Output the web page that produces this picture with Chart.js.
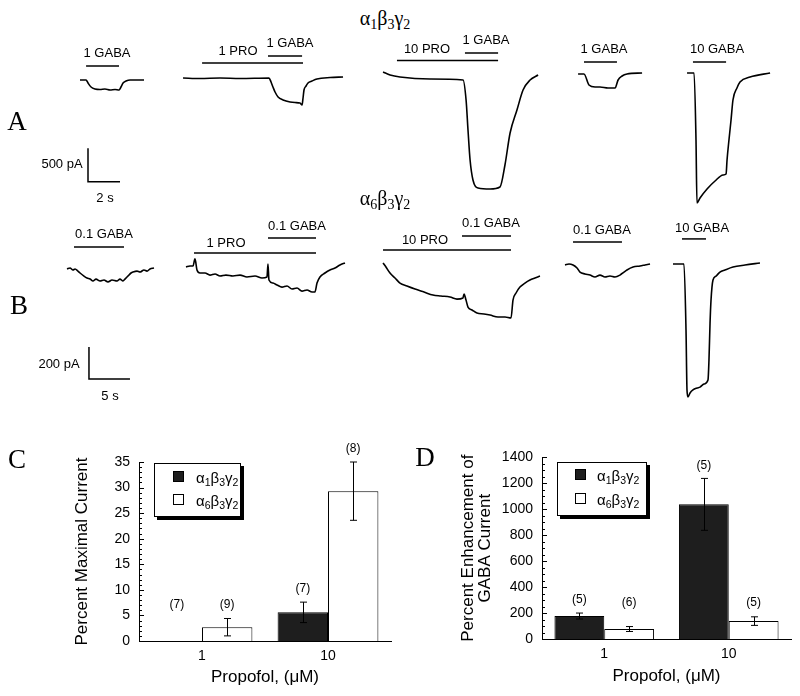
<!DOCTYPE html>
<html>
<head>
<meta charset="utf-8">
<script src="https://cdn.jsdelivr.net/npm/chart.js@4.4.0/dist/chart.umd.min.js"></script>
<style>
  body { margin: 0; background: #fff; }
  #fig { position: relative; width: 800px; height: 696px; overflow: hidden; font-family: "Liberation Sans", Arial, sans-serif; color: #000; }
  canvas { position: absolute; }
  .t { position: absolute; transform: translate(-50%, -50%); white-space: nowrap; line-height: 1; font-size: 13px; z-index: 2; }
  .serif { font-family: "Liberation Serif", "DejaVu Serif", serif; }
  .letter { font-size: 27px; }
  .title { font-size: 20px; }
  sub { font-size: 0.7em; vertical-align: -0.3em; line-height: 0; }
  .legend { position: absolute; border: 1.5px solid #000; box-shadow: 3px 3px 0 #000; background: #fff; z-index: 2; box-sizing: border-box; }
  .legend .sw { position: absolute; width: 11px; height: 11px; border: 1px solid #000; box-sizing: border-box; }
  .legend .lb { position: absolute; font-size: 15px; line-height: 1; transform: translateY(-50%); white-space: nowrap; }
</style>
</head>
<body>
<div id="fig">
  <canvas id="rowA" width="800" height="170" style="left:0;top:40px"></canvas>
  <canvas id="rowB" width="800" height="190" style="left:0;top:215px"></canvas>
  <canvas id="chartC" width="370" height="256" style="left:40px;top:440px"></canvas>
  <canvas id="chartD" width="380" height="256" style="left:420px;top:440px"></canvas>

  <div class="t serif title" style="left:385px;top:18px">α<sub>1</sub>β<sub>3</sub>γ<sub>2</sub></div>
  <div class="t serif title" style="left:385px;top:198px">α<sub>6</sub>β<sub>3</sub>γ<sub>2</sub></div>
  <div class="t serif letter" style="left:17px;top:121px">A</div>
  <div class="t serif letter" style="left:19px;top:305px">B</div>
  <div class="t serif letter" style="left:17px;top:459px">C</div>
  <div class="t serif letter" style="left:425px;top:457px">D</div>

  <div class="t" style="left:107px;top:52px">1 GABA</div>
  <div class="t" style="left:238px;top:50px">1 PRO</div>
  <div class="t" style="left:290px;top:42px">1 GABA</div>
  <div class="t" style="left:427px;top:48px">10 PRO</div>
  <div class="t" style="left:486px;top:39px">1 GABA</div>
  <div class="t" style="left:604px;top:48px">1 GABA</div>
  <div class="t" style="left:717px;top:48px">10 GABA</div>
  <div class="t" style="left:62px;top:163px">500 pA</div>
  <div class="t" style="left:105px;top:197px">2 s</div>

  <div class="t" style="left:104px;top:233px">0.1 GABA</div>
  <div class="t" style="left:226px;top:242px">1 PRO</div>
  <div class="t" style="left:297px;top:225px">0.1 GABA</div>
  <div class="t" style="left:425px;top:239px">10 PRO</div>
  <div class="t" style="left:491px;top:222px">0.1 GABA</div>
  <div class="t" style="left:602px;top:229px">0.1 GABA</div>
  <div class="t" style="left:702px;top:227px">10 GABA</div>
  <div class="t" style="left:59px;top:363px">200 pA</div>
  <div class="t" style="left:110px;top:395px">5 s</div>

  <div class="legend" id="legC" style="left:154px;top:463px;width:87px;height:54px"></div>
  <div class="legend" id="legD" style="left:557px;top:462px;width:90px;height:54px"></div>
</div>

<script>
// ---- traces, row A (alpha1 beta3 gamma2): time in s, current in pA ----
const a1T = [5.00, 5.38, 5.50, 5.69, 5.94, 6.25, 6.56, 6.88, 7.19, 7.44, 7.56, 7.69, 7.88, 8.13, 9.00];
const a1I = [-75, -75, -120, -180, -210, -218, -210, -225, -218, -225, -180, -120, -90, -75, -75];
const a2T = [11.44, 12.50, 13.75, 15.00, 16.81, 16.94, 17.06, 17.19, 17.38, 17.69, 18.13, 18.44, 18.75, 18.88, 18.94, 19.00, 19.13, 19.25, 19.50, 19.81, 20.63, 21.44];
const a2I = [-45, -53, -45, -53, -45, -105, -180, -255, -330, -375, -405, -413, -420, -450, -345, -225, -165, -120, -90, -60, -38, -30];
const a3T = [23.94, 24.38, 25.00, 26.88, 28.94, 29.13, 29.25, 29.38, 29.56, 29.88, 30.63, 31.25, 31.56, 31.88, 32.31, 32.69, 33.13, 33.63];
const a3I = [45, 0, -30, -60, -75, -375, -825, -1275, -1575, -1695, -1710, -1680, -1350, -870, -525, -225, -75, 0];
const a4T = [36.13, 36.50, 36.81, 37.19, 37.50, 38.00, 38.44, 38.63, 38.88, 39.19, 40.13];
const a4I = [15, 15, -150, -180, -180, -195, -195, -75, -15, 15, 30];
const a5T = [42.94, 43.38, 43.50, 43.56, 43.75, 44.19, 44.69, 45.19, 45.38, 45.44, 45.56, 45.69, 45.81, 46.06, 46.25, 46.88, 48.13];
const a5I = [30, 30, -975, -1920, -1845, -1710, -1590, -1500, -1485, -1275, -975, -675, -375, -195, -105, -30, 30];
// drug application bars [start s, end s, level]
const appA = [[5.38, 7.44, 135], [12.63, 18.94, 180], [16.75, 18.88, 285], [24.81, 31.13, 218], [29.06, 31.13, 330], [36.5, 38.56, 195], [43.31, 45.38, 195]];
const scaleA = [[5.5, -1100], [5.5, -1600], [7.5, -1600]];   // 500 pA / 2 s

// ---- traces, row B (alpha6 beta3 gamma2) ----
const b1T = [8.17, 8.54, 8.90, 9.15, 9.51, 9.76, 10.24, 10.61, 10.98, 11.34, 11.71, 12.20, 12.68, 13.17, 13.66, 14.27, 14.63, 15.00, 15.24, 15.61, 15.98, 16.22, 16.71, 17.07, 17.56, 17.93, 18.29, 18.78];
const b1I = [-25, -19, -31, -25, -38, -50, -69, -81, -88, -100, -88, -100, -94, -106, -94, -100, -88, -100, -88, -69, -50, -44, -38, -44, -31, -38, -25, -19];
const b2T = [22.68, 23.17, 23.54, 23.78, 24.02, 24.39, 25.00, 25.61, 26.22, 26.83, 27.56, 28.41, 29.27, 30.12, 31.10, 31.95, 32.56, 32.68, 32.80, 33.29, 33.78, 34.39, 35.00, 35.61, 36.22, 36.83, 37.44, 38.05, 38.41, 38.66, 39.02, 39.63, 40.24, 40.85, 41.46, 42.07];
const b2I = [-13, -6, -6, 38, -31, -50, -50, -63, -56, -69, -63, -69, -63, -75, -69, -81, -75, 6, -94, -113, -125, -138, -131, -150, -144, -163, -156, -169, -169, -113, -75, -50, -31, -19, 0, 13];
const b3T = [46.71, 47.07, 47.56, 48.17, 48.78, 49.63, 50.61, 51.71, 52.80, 53.78, 54.88, 55.73, 56.46, 56.59, 56.83, 57.07, 57.56, 58.17, 59.02, 59.76, 60.73, 61.59, 62.32, 62.56, 62.93, 63.41, 64.02, 64.63, 65.24, 65.85];
const b3I = [13, -13, -50, -81, -113, -131, -150, -169, -188, -194, -200, -213, -206, -181, -219, -263, -281, -300, -306, -313, -325, -325, -331, -219, -175, -138, -113, -94, -81, -69];
const b4T = [68.90, 69.39, 69.88, 70.37, 70.73, 71.34, 71.95, 72.56, 73.17, 73.78, 74.39, 75.00, 75.61, 76.10, 76.46, 77.20, 78.05, 78.66, 79.27];
const b4I = [0, 6, 0, -19, -44, -56, -63, -75, -63, -75, -69, -75, -63, -44, -31, -13, -6, 0, 6];
const b5T = [82.07, 83.41, 83.66, 83.78, 83.90, 84.15, 84.51, 85.00, 85.37, 85.85, 86.34, 86.46, 86.59, 86.71, 86.95, 87.32, 87.80, 88.41, 89.39, 90.85, 92.68];
const b5I = [6, 6, -406, -781, -825, -800, -781, -769, -763, -744, -719, -594, -363, -219, -94, -69, -44, -31, -13, 0, 13];
const appB = [[9.02, 15.12, 113], [23.66, 38.54, 75], [32.68, 38.54, 169], [46.71, 62.32, 94], [56.34, 62.32, 181], [69.88, 75.85, 144], [83.17, 86.10, 163]];
const scaleB = [[10.85, -513], [10.85, -713], [15.85, -713]];  // 200 pA / 5 s

// ---- bar charts ----
const doses = ['1', '10'];
const seriesNames = ['α1β3γ2', 'α6β3γ2'];
const seriesHtml = ['α<sub>1</sub>β<sub>3</sub>γ<sub>2</sub>', 'α<sub>6</sub>β<sub>3</sub>γ<sub>2</sub>'];
const maxCurA1 = [0, 5.6];
const maxCurA1Err = [0, 2.0];
const maxCurA1N = [7, 7];
const maxCurA6 = [2.7, 29.3];
const maxCurA6Err = [1.7, 5.7];
const maxCurA6N = [9, 8];
const enhA1 = [177, 1038];
const enhA1Err = [23, 200];
const enhA1N = [5, 5];
const enhA6 = [77, 138];
const enhA6Err = [19, 33];
const enhA6N = [6, 5];

const pts = (t, i) => t.map((x, k) => ({ x: x, y: i[k] }));

const traceSet = (t, i) => ({ data: pts(t, i), borderColor: '#000', borderWidth: 1.6, cubicInterpolationMode: 'monotone', pointRadius: 0, fill: false });
const plainSet = (p) => ({ data: p, borderColor: '#000', borderWidth: 1.5, pointRadius: 0, fill: false, tension: 0 });

const traceChart = (id, xMax, yMin, yMax, datasets) => new Chart(document.getElementById(id), {
  type: 'line',
  data: { datasets: datasets },
  options: {
    responsive: false,
    animation: false,
    events: [],
    layout: { padding: 0 },
    plugins: { legend: { display: false }, tooltip: { enabled: false } },
    scales: {
      x: { type: 'linear', display: false, min: 0, max: xMax },
      y: { display: false, min: yMin, max: yMax }
    }
  }
});

traceChart('rowA', 50, -2025, 525, [
  traceSet(a1T, a1I), traceSet(a2T, a2I), traceSet(a3T, a3I), traceSet(a4T, a4I), traceSet(a5T, a5I),
  ...appA.map(b => plainSet([{ x: b[0], y: b[2] }, { x: b[1], y: b[2] }])),
  plainSet(scaleA.map(p => ({ x: p[0], y: p[1] })))
]);

traceChart('rowB', 800 / 8.2, -875, 312.5, [
  traceSet(b1T, b1I), traceSet(b2T, b2I), traceSet(b3T, b3I), traceSet(b4T, b4I), traceSet(b5T, b5I),
  ...appB.map(b => plainSet([{ x: b[0], y: b[2] }, { x: b[1], y: b[2] }])),
  plainSet(scaleB.map(p => ({ x: p[0], y: p[1] })))
]);

// error bars + (n) labels
const errorBars = {
  id: 'errorBars',
  afterDatasetsDraw(chart) {
    const ctx = chart.ctx, y = chart.scales.y;
    ctx.save();
    ctx.strokeStyle = '#000';
    ctx.fillStyle = '#000';
    ctx.lineWidth = 1;
    ctx.font = '12px "Liberation Sans", Arial, sans-serif';
    ctx.textAlign = 'center';
    ctx.textBaseline = 'middle';
    chart.data.datasets.forEach((ds, i) => {
      chart.getDatasetMeta(i).data.forEach((bar, j) => {
        const v = ds.data[j], e = ds.errors[j];
        const x = Math.round(bar.x) + 0.5;
        const top = y.getPixelForValue(v + e);
        if (e > 0) {
          const bot = y.getPixelForValue(v - e);
          ctx.beginPath();
          ctx.moveTo(x, top); ctx.lineTo(x, bot);
          ctx.moveTo(x - 3.5, top); ctx.lineTo(x + 3.5, top);
          ctx.moveTo(x - 3.5, bot); ctx.lineTo(x + 3.5, bot);
          ctx.stroke();
        }
        const ly = Math.min(top - 13, y.getPixelForValue(0) - 36);
        ctx.fillText('(' + ds.counts[j] + ')', bar.x, ly);
      });
    });
    ctx.restore();
  }
};

// small inward ticks on the y axis
const inwardTicks = (minor, major) => ({
  id: 'inwardTicks',
  afterDraw(chart) {
    const y = chart.scales.y, ctx = chart.ctx, left = chart.chartArea.left;
    ctx.save();
    ctx.strokeStyle = '#000';
    ctx.lineWidth = 1;
    for (let v = y.min; v <= y.max + 1e-9; v += minor) {
      const py = Math.round(y.getPixelForValue(v)) + 0.5;
      const len = Math.abs(v % major) < 1e-9 ? 5 : 3;
      ctx.beginPath(); ctx.moveTo(left, py); ctx.lineTo(left + len, py); ctx.stroke();
    }
    ctx.restore();
  }
});

const font = (size, lh) => ({ family: '"Liberation Sans", Arial, sans-serif', size: size, lineHeight: lh || 1.2 });

const barChart = (id, d1, e1, n1, d6, e6, n6, yMax, step, minor, yTitle, yTitlePad, yWidth, xHeight, xTitlePad, pad) => new Chart(document.getElementById(id), {
  type: 'bar',
  data: {
    labels: doses,
    datasets: [
      { label: seriesNames[0], data: d1, errors: e1, counts: n1, backgroundColor: '#1e1e1e', borderColor: '#000', borderWidth: 1, categoryPercentage: 0.8, barPercentage: 1 },
      { label: seriesNames[1], data: d6, errors: e6, counts: n6, backgroundColor: '#fff', borderColor: '#000', borderWidth: 1, categoryPercentage: 0.8, barPercentage: 1 }
    ]
  },
  options: {
    responsive: false,
    animation: false,
    events: [],
    layout: { padding: pad },
    plugins: { legend: { display: false }, tooltip: { enabled: false } },
    scales: {
      x: {
        grid: { display: false, drawTicks: false },
        border: { display: true, color: '#000', width: 1 },
        ticks: { color: '#000', font: font(14), padding: 7 },
        title: { display: true, text: 'Propofol, (μM)', color: '#000', font: font(17), padding: { top: 0, bottom: xTitlePad } },
        afterFit: (s) => { s.height = xHeight; }
      },
      y: {
        min: 0,
        max: yMax,
        grid: { display: false, drawTicks: false },
        border: { display: true, color: '#000', width: 1 },
        ticks: { color: '#000', font: font(14), stepSize: step, padding: 9, callback: (v) => String(v) },
        title: { display: true, text: yTitle, color: '#000', font: font(17, 1.0), padding: { top: yTitlePad, bottom: 0 } },
        afterFit: (s) => { s.width = yWidth; }
      }
    }
  },
  plugins: [errorBars, inwardTicks(minor, step)]
});

barChart('chartC', maxCurA1, maxCurA1Err, maxCurA1N, maxCurA6, maxCurA6Err, maxCurA6N,
  35, 5, 1, 'Percent Maximal Current', 33.5, 99, 55, 8, { left: 0, right: 19, top: 22, bottom: 0 });
barChart('chartD', enhA1, enhA1Err, enhA1N, enhA6, enhA6Err, enhA6N,
  1400, 200, 50, ['Percent Enhancement of', 'GABA Current'], 39.5, 122, 57, 9, { left: 0, right: 9, top: 17, bottom: 0 });

// legends
const buildLegend = (id, swLeft, textLeft, rows) => {
  const box = document.getElementById(id);
  seriesHtml.forEach((h, k) => {
    const sw = document.createElement('div');
    sw.className = 'sw';
    sw.style.left = swLeft + 'px';
    sw.style.top = (rows[k] - 6) + 'px';
    sw.style.background = k === 0 ? '#1e1e1e' : '#fff';
    box.appendChild(sw);
    const lb = document.createElement('div');
    lb.className = 'lb';
    lb.style.left = textLeft + 'px';
    lb.style.top = rows[k] + 'px';
    lb.innerHTML = h;
    box.appendChild(lb);
  });
};
buildLegend('legC', 18, 41, [13, 36]);
buildLegend('legD', 17, 39, [12, 36]);
</script>
</body>
</html>
